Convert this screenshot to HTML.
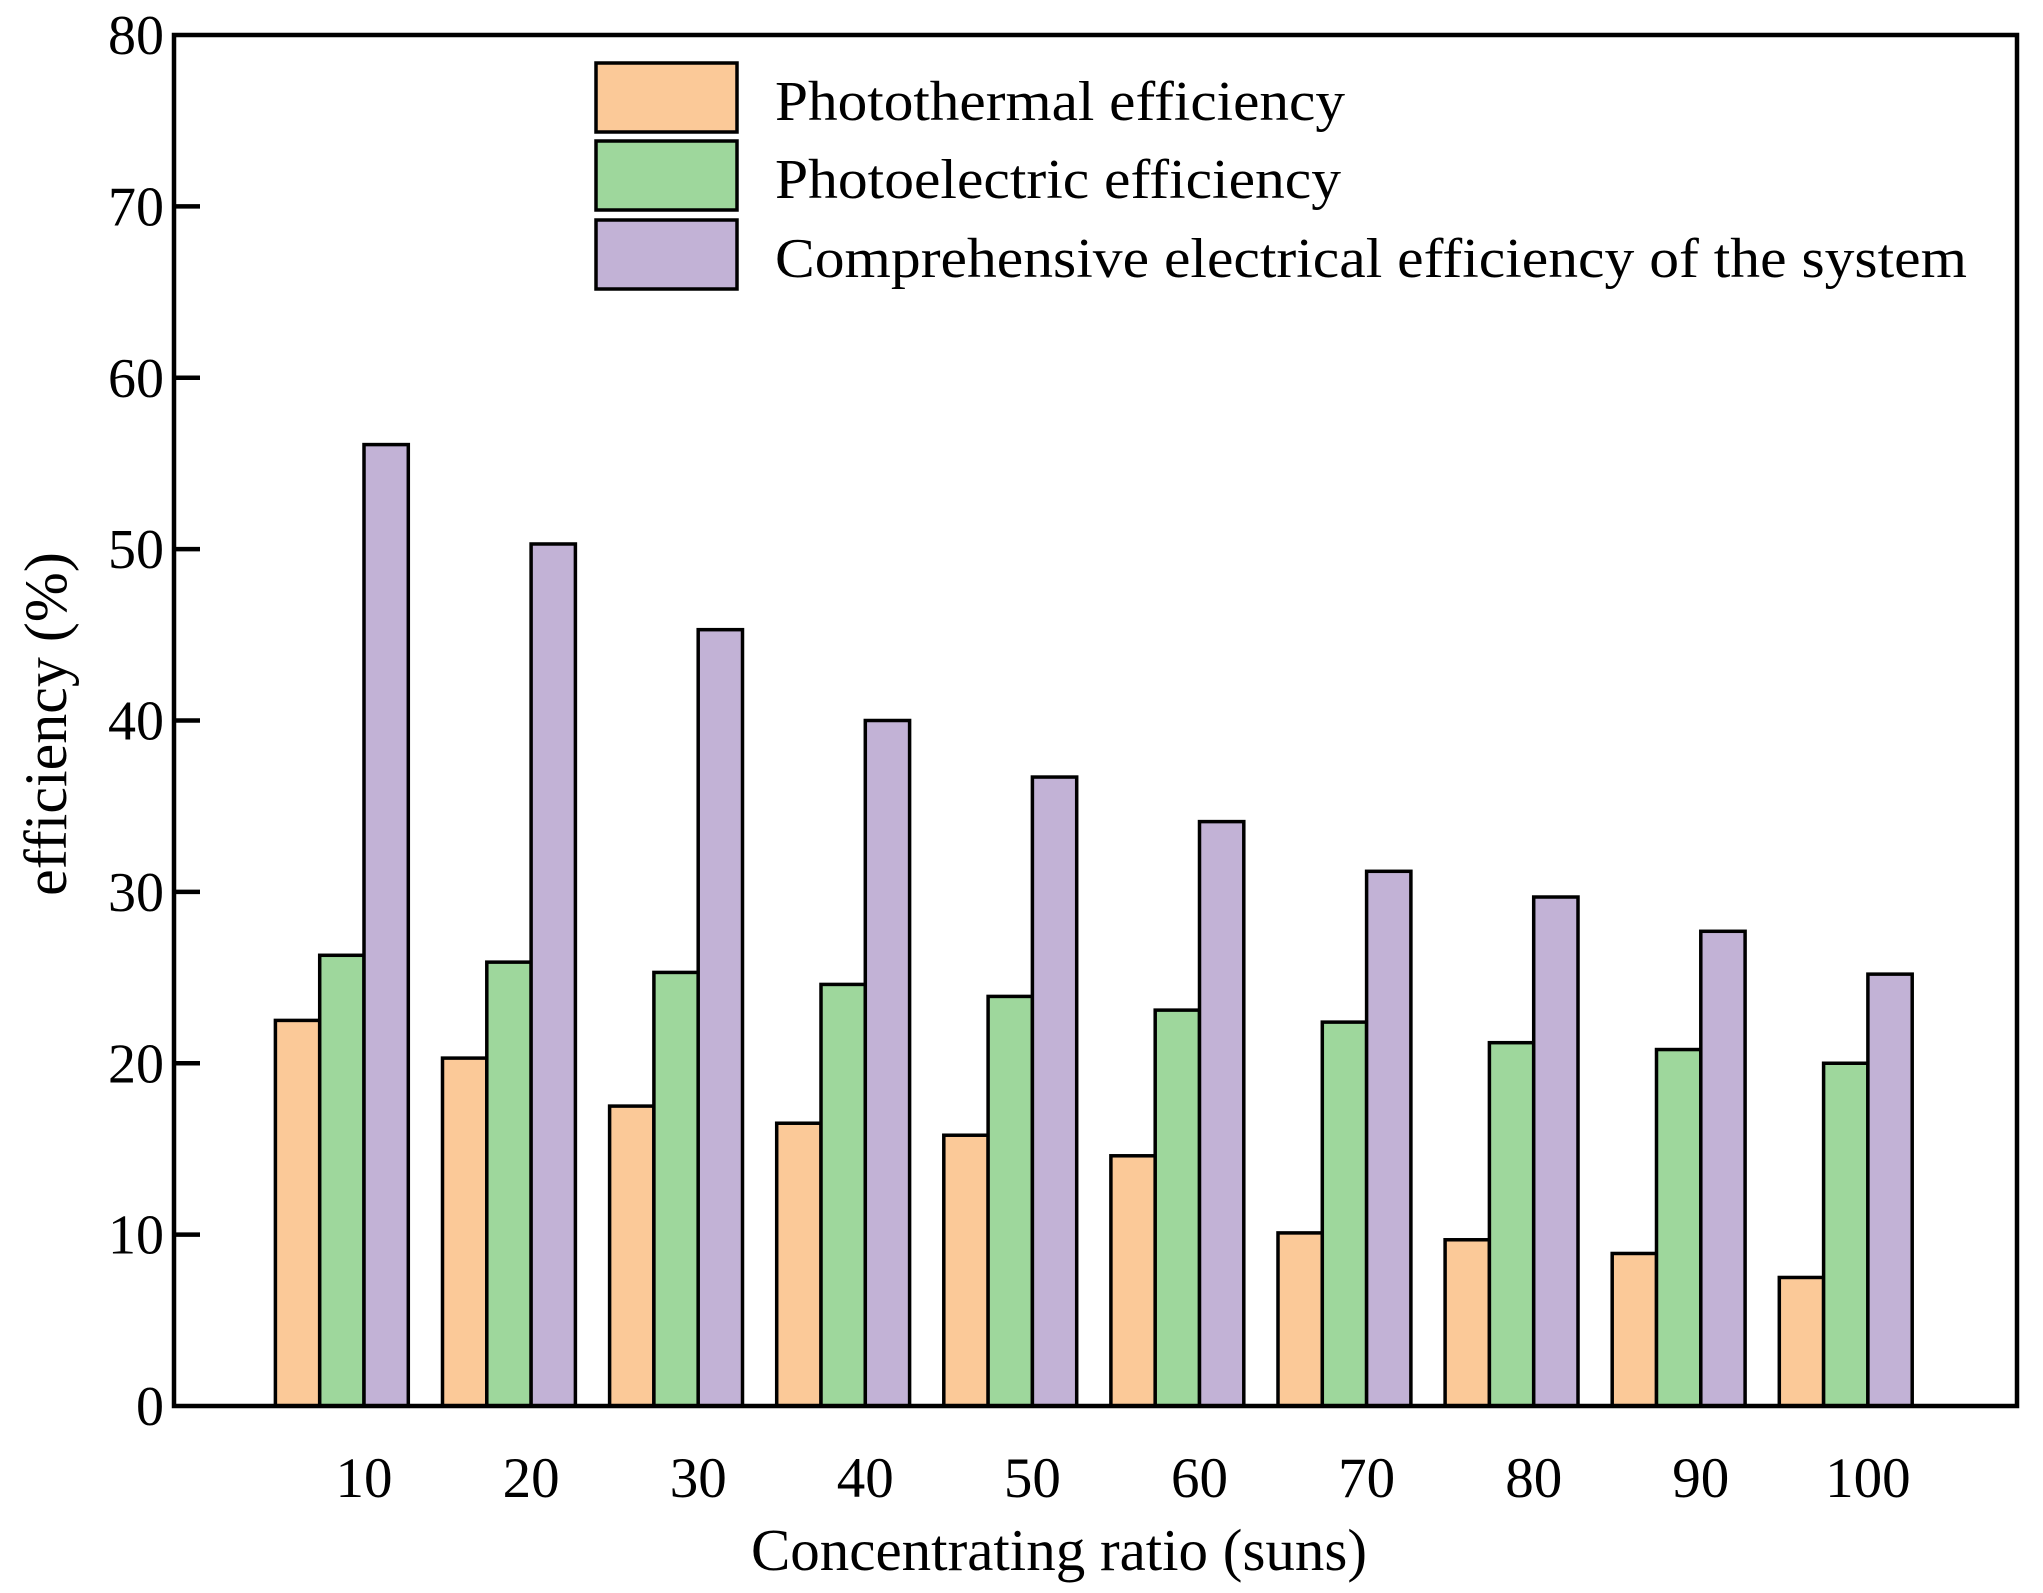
<!DOCTYPE html>
<html><head><meta charset="utf-8"><style>
body{margin:0;background:#fff}
svg{display:block;font-family:"Liberation Serif","Noto Serif CJK SC",serif}
</style></head><body>
<svg id="chart" width="2043" height="1593" viewBox="0 0 2043 1593">
<g id="bars"></g>
<g id="axes"></g>
<g id="legend"></g>
</svg>
<script>
const categories = [10,20,30,40,50,60,70,80,90,100];
const photothermal = [22.5,20.3,17.5,16.5,15.8,14.6,10.1,9.7,8.9,7.5];
const photoelectric = [26.3,25.9,25.3,24.6,23.9,23.1,22.4,21.2,20.8,20.0];
const comprehensive = [56.1,50.3,45.3,40.0,36.7,34.1,31.2,29.7,27.7,25.2];
const yTicks = [0,10,20,30,40,50,60,70,80];
const seriesNames = ["Photothermal efficiency","Photoelectric efficiency","Comprehensive electrical efficiency of the system"];
const legendWidths = [570,566,1192];

const L=174,R=2017,T=35,B=1406,YMAX=80;
const NS="http://www.w3.org/2000/svg";
const colors=["#FBC998","#9ED79C","#C2B2D6"];
function y(v){return B-(B-T)*v/YMAX;}
const step=167.1, bw=44.3, firstCenter=364;
function xc(i){return firstCenter+step*i;}
function mk(tag,attrs,parent){const e=document.createElementNS(NS,tag);for(const k in attrs)e.setAttribute(k,attrs[k]);parent.appendChild(e);return e;}

const bars=document.getElementById('bars');
const series=[photothermal,photoelectric,comprehensive];
series.forEach((arr,s)=>{
  arr.forEach((v,i)=>{
    const x=xc(i)+(s-2)*bw;
    const r=mk('rect',{x:x,y:y(v),width:bw,height:B-y(v),fill:colors[s],stroke:'#000','stroke-width':3.5},bars);
    
    
  });
});

const axes=document.getElementById('axes');
const frame=mk('rect',{x:L,y:T,width:R-L,height:B-T,fill:'none',stroke:'#000','stroke-width':4.5},axes);


yTicks.forEach(t=>{
  if(t>0&&t<YMAX){
    const tk=mk('line',{x1:L,x2:L+26,y1:y(t),y2:y(t),stroke:'#000','stroke-width':4.5},axes);
    
    
  }
  const tx=mk('text',{x:164,y:y(t)+19,'text-anchor':'end','font-size':56},axes);
  tx.textContent=t;
  
  
});
categories.forEach((c,i)=>{
  const tx=mk('text',{x:xc(i),y:1497,'text-anchor':'middle','font-size':57},axes);
  tx.textContent=c;
  
  
});
const xt=mk('text',{x:1059,y:1570,'text-anchor':'middle','font-size':59},axes);
xt.textContent='Concentrating ratio (suns)';


const yt=mk('text',{x:0,y:0,'text-anchor':'middle','font-size':60,transform:'translate(66,724) rotate(-90)'},axes);
yt.textContent='efficiency (%)';



const lg=document.getElementById('legend');
const rows=[63,141,220];
seriesNames.forEach((n,s)=>{
  const r=mk('rect',{x:596,y:rows[s],width:141,height:69,fill:colors[s],stroke:'#000','stroke-width':3.5},lg);
  
  
  const t=mk('text',{x:775,y:rows[s]+57,'font-size':56,textLength:legendWidths[s],lengthAdjust:'spacingAndGlyphs'},lg);
  t.textContent=n;
  
  
});
</script>
</body></html>
